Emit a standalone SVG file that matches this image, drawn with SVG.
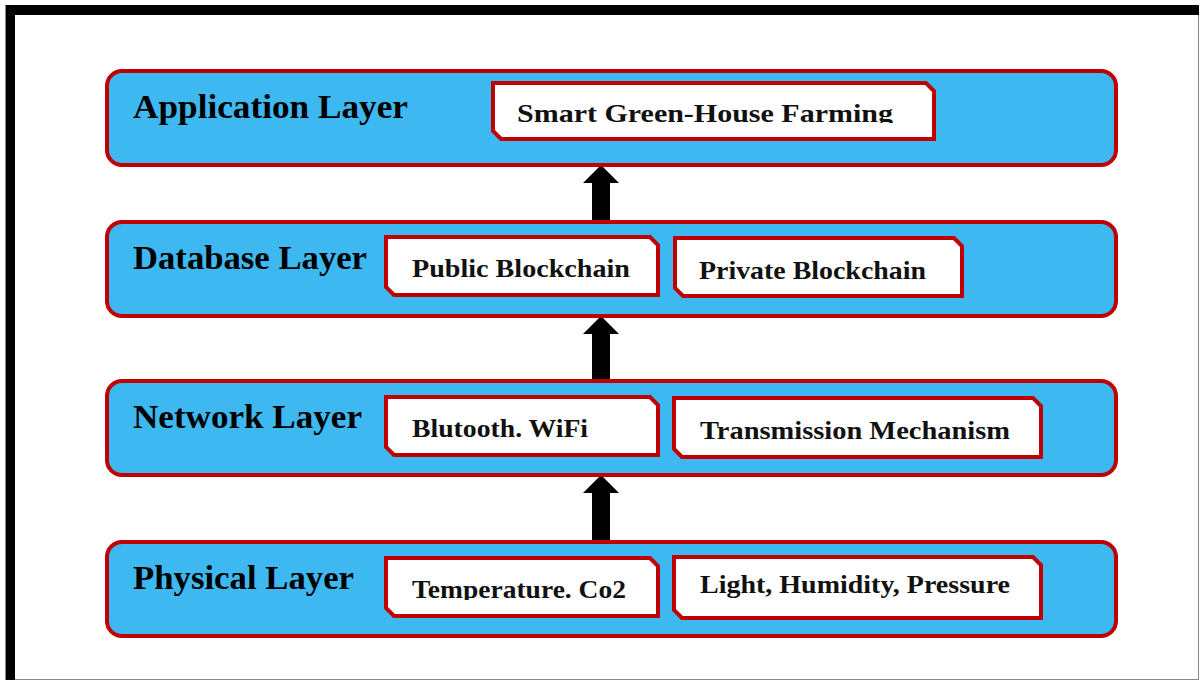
<svg xmlns="http://www.w3.org/2000/svg" width="1201" height="681" viewBox="0 0 1201 681">
<style>
.layer{fill:#3DB8F0;stroke:#C00000;stroke-width:4}
.item{fill:#FFFFFF;stroke:#C00000;stroke-width:4}
.lt{font-family:"Liberation Serif","Times New Roman",serif;font-weight:bold;font-size:33px;fill:#000}
.it{font-family:"Liberation Serif","Times New Roman",serif;font-weight:bold;font-size:25px;fill:#111}
.arrow{fill:#000}
</style>
<defs>
<clipPath id="clipSmart"><rect x="495" y="85" width="436" height="38"/></clipPath>
<clipPath id="clipTemp"><rect x="388" y="560" width="268" height="40"/></clipPath>
</defs>
<rect x="0" y="0" width="1201" height="681" fill="#FFFFFF"/>
<g id="frame">
<rect x="5.5" y="5.5" width="1193" height="674" fill="none" stroke="#888" stroke-width="1"/>
<rect x="6" y="5" width="1193" height="10" fill="#000"/>
<rect x="6" y="5" width="9" height="675" fill="#000"/>
</g>
<g id="connectors">
<polygon class="arrow" points="601,165 619,183 610,183 610,222 592,222 592,183 583,183"/>
<polygon class="arrow" points="601,316 619,334 610,334 610,382 592,382 592,334 583,334"/>
<polygon class="arrow" points="601,475 619,493 610,493 610,543 592,543 592,493 583,493"/>
</g>
<g id="application-layer">
<rect class="layer" x="107" y="71" width="1009" height="94" rx="15"/>
<text class="lt" x="133" y="118" textLength="275" lengthAdjust="spacingAndGlyphs">Application Layer</text>
<g id="smart-greenhouse">
<polygon class="item" points="493,83 926,83 934,91 934,139 501,139 493,131"/>
<text class="it" x="517" y="122" textLength="376" lengthAdjust="spacingAndGlyphs" clip-path="url(#clipSmart)">Smart Green-House Farming</text>
</g>
</g>
<g id="database-layer">
<rect class="layer" x="107" y="222" width="1009" height="94" rx="15"/>
<text class="lt" x="133" y="269" textLength="234" lengthAdjust="spacingAndGlyphs">Database Layer</text>
<g id="public-blockchain">
<polygon class="item" points="386,237 650,237 658,245 658,295 394,295 386,287"/>
<text class="it" x="412" y="277" textLength="218" lengthAdjust="spacingAndGlyphs">Public Blockchain</text>
</g>
<g id="private-blockchain">
<polygon class="item" points="675,238 954,238 962,246 962,296 683,296 675,288"/>
<text class="it" x="699" y="279" textLength="227" lengthAdjust="spacingAndGlyphs">Private Blockchain</text>
</g>
</g>
<g id="network-layer">
<rect class="layer" x="107" y="381" width="1009" height="94" rx="15"/>
<text class="lt" x="133" y="428" textLength="229" lengthAdjust="spacingAndGlyphs">Network Layer</text>
<g id="bluetooth-wifi">
<polygon class="item" points="386,397 650,397 658,405 658,455 394,455 386,447"/>
<text class="it" x="412" y="437" textLength="176" lengthAdjust="spacingAndGlyphs">Blutooth. WiFi</text>
</g>
<g id="transmission">
<polygon class="item" points="674,398 1033,398 1041,406 1041,457 682,457 674,449"/>
<text class="it" x="700" y="439" textLength="310" lengthAdjust="spacingAndGlyphs">Transmission Mechanism</text>
</g>
</g>
<g id="physical-layer">
<rect class="layer" x="107" y="542" width="1009" height="94" rx="15"/>
<text class="lt" x="133" y="589" textLength="221" lengthAdjust="spacingAndGlyphs">Physical Layer</text>
<g id="temperature-co2">
<polygon class="item" points="386,558 650,558 658,566 658,616 394,616 386,608"/>
<text class="it" x="412" y="598" textLength="214" lengthAdjust="spacingAndGlyphs" clip-path="url(#clipTemp)">Temperature. Co2</text>
</g>
<g id="light-humidity-pressure">
<polygon class="item" points="674,557 1033,557 1041,565 1041,618 682,618 674,610"/>
<text class="it" x="700" y="593" textLength="310" lengthAdjust="spacingAndGlyphs">Light, Humidity, Pressure</text>
</g>
</g>
</svg>
